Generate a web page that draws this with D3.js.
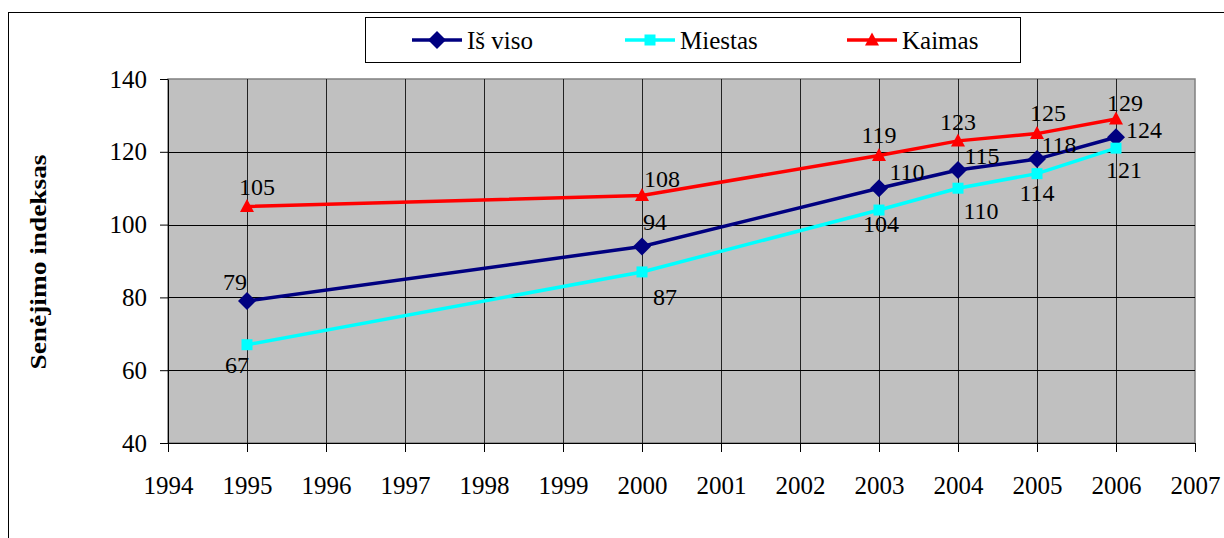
<!DOCTYPE html>
<html>
<head>
<meta charset="utf-8">
<script src="https://cdn.jsdelivr.net/npm/d3@7"></script>
</head>
<body style="margin:0">
<svg id="chart" width="1224" height="538"></svg>
<script>
// Data
var years = [1995, 2000, 2003, 2004, 2005, 2006];
var isViso = [79, 94, 110, 115, 118, 124];
var miestas = [67, 87, 104, 110, 114, 121];
var kaimas = [105, 108, 119, 123, 125, 129];
var xTicks = [1994, 1995, 1996, 1997, 1998, 1999, 2000, 2001, 2002, 2003, 2004, 2005, 2006, 2007];
var yTicks = [40, 60, 80, 100, 120, 140];
var seriesNames = ["Iš viso", "Miestas", "Kaimas"];

// Label offsets (pixels from the point) as Excel placed them
var labelOffsets = [
    [[-12, -11], [13, -16], [28, -8], [24, -6], [22, -6], [28, 1]],
    [[-10, 28], [23, 33], [2, 22], [23, 31], [0, 27], [8, 30]],
    [[10, -11], [20, -8], [0, -12], [0, -11], [11, -13], [9, -8]]
];

const FONT = "Liberation Serif";

// Set svg dimensions
const width = 1224;
const height = 538;
var plot = {left: 168, right: 1195, top: 79, bottom: 443};

var svg = d3.select("#chart");

// helper for serif text
function serif(sel, size) {
    return sel.attr("font-family", FONT)
              .attr("font-size", size)
              .attr("style", "font-family:'Liberation Serif';font-size:" + size + "px");
}

// Outer chart border
svg.append("rect")
    .attr("x", 8.5).attr("y", 12.5)
    .attr("width", width).attr("height", height)
    .attr("fill", "none")
    .attr("stroke", "#000")
    .attr("stroke-width", 1);

var scaleX = d3.scaleLinear().domain([1994, 2007]).range([plot.left, plot.right]);
var scaleY = d3.scaleLinear().domain([40, 140]).range([plot.bottom, plot.top]);

// Plot background
svg.append("rect")
    .attr("x", plot.left).attr("y", plot.top)
    .attr("width", plot.right - plot.left)
    .attr("height", plot.bottom - plot.top)
    .attr("fill", "#c0c0c0")
    .attr("stroke", "#808080")
    .attr("stroke-width", 1.5);

// Grid lines
svg.append("g").selectAll("line")
    .data(xTicks.slice(1, -1))
    .enter().append("line")
        .attr("x1", d => Math.round(scaleX(d)) + 0.5)
        .attr("x2", d => Math.round(scaleX(d)) + 0.5)
        .attr("y1", plot.top).attr("y2", plot.bottom)
        .attr("stroke", "#222").attr("stroke-width", 1);

svg.append("g").selectAll("line")
    .data(yTicks.slice(1, -1))
    .enter().append("line")
        .attr("x1", plot.left).attr("x2", plot.right)
        .attr("y1", d => Math.round(scaleY(d)) + 0.5)
        .attr("y2", d => Math.round(scaleY(d)) + 0.5)
        .attr("stroke", "#000").attr("stroke-width", 1);

// Y axis
var axisY = svg.append("g")
    .attr("transform", "translate(" + plot.left + ",0)")
    .call(d3.axisLeft(scaleY).tickValues(yTicks).tickSize(8).tickSizeOuter(0).tickPadding(13));
axisY.attr("font-family", FONT);
serif(axisY.selectAll("text"), 25).attr("fill", "#000");
axisY.selectAll("line, path").attr("stroke", "#000");

// X axis
var axisX = svg.append("g")
    .attr("transform", "translate(0," + plot.bottom + ")")
    .call(d3.axisBottom(scaleX).tickValues(xTicks).tickFormat(d3.format("d")).tickSize(9).tickSizeOuter(0).tickPadding(24));
axisX.attr("font-family", FONT);
serif(axisX.selectAll("text"), 25).attr("fill", "#000");
axisX.selectAll("line, path").attr("stroke", "#000");

// Y axis title
serif(svg.append("text"), 24)
    .attr("transform", "translate(46,262) rotate(-90)")
    .attr("text-anchor", "middle")
    .attr("textLength", 215)
    .attr("lengthAdjust", "spacingAndGlyphs")
    .attr("font-weight", "bold")
    .text("Senėjimo indeksas");

// Series
var colors = ["#000080", "#00ffff", "#ff0000"];
var allValues = [isViso, miestas, kaimas];

function markerPath(i) {
    if (i === 0) return "M0,-9L9,0L0,9L-9,0Z";
    if (i === 1) return "M-5.5,-5.5H5.5V5.5H-5.5Z";
    return "M0,-7.5L7,5.5H-7Z";
}

var line = d3.line()
    .x(d => scaleX(d.year))
    .y(d => scaleY(d.value));

allValues.forEach(function(vals, i) {
    var pts = years.map((y, k) => ({year: y, value: vals[k]}));
    var g = svg.append("g");
    g.append("path")
        .datum(pts)
        .attr("d", line)
        .attr("fill", "none")
        .attr("stroke", colors[i])
        .attr("stroke-width", 3.5);
    g.selectAll("path.marker")
        .data(pts)
        .enter().append("path")
            .attr("class", "marker")
            .attr("d", markerPath(i))
            .attr("transform", d => "translate(" + scaleX(d.year) + "," + scaleY(d.value) + ")")
            .attr("fill", colors[i]);
});

// Data labels
allValues.forEach(function(vals, i) {
    var t = svg.append("g").selectAll("text")
        .data(vals)
        .enter().append("text")
            .attr("x", (d, k) => scaleX(years[k]) + labelOffsets[i][k][0])
            .attr("y", (d, k) => scaleY(d) + labelOffsets[i][k][1])
            .attr("text-anchor", "middle")
            .text(d => d);
    serif(t, 24);
});

// Legend
var legend = svg.append("g");
legend.append("rect")
    .attr("x", 365.5).attr("y", 17.5)
    .attr("width", 655).attr("height", 45)
    .attr("fill", "#fff")
    .attr("stroke", "#000")
    .attr("stroke-width", 1);

var legendX = [412, 625, 847];
seriesNames.forEach(function(name, i) {
    var lg = legend.append("g").attr("transform", "translate(" + legendX[i] + ",40)");
    lg.append("line")
        .attr("x1", 0).attr("x2", 50)
        .attr("stroke", colors[i])
        .attr("stroke-width", 3.5);
    lg.append("path")
        .attr("d", markerPath(i))
        .attr("transform", "translate(25,0)")
        .attr("fill", colors[i]);
    serif(lg.append("text"), 25)
        .attr("x", 55)
        .attr("y", 9)
        .text(name);
});
</script>
</body>
</html>
